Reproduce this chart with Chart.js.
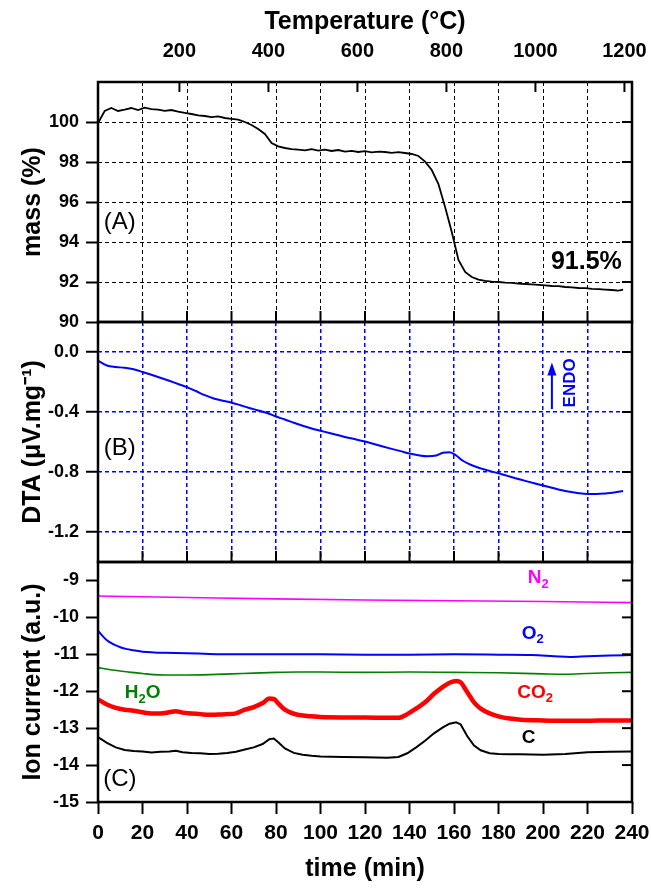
<!DOCTYPE html>
<html>
<head>
<meta charset="utf-8">
<script src="https://cdn.jsdelivr.net/npm/chart.js@4.4.0/dist/chart.umd.min.js"></script>
<style>
  html, body { margin: 0; padding: 0; background: #fff; }
  #wrap { position: relative; width: 651px; height: 888px; }
  #wrap canvas { position: absolute; left: 0; top: 0; }
</style>
</head>
<body>
<div id="wrap">
  <canvas id="chartA" width="651" height="888"></canvas>
  <canvas id="chartB" width="651" height="888"></canvas>
  <canvas id="chartC" width="651" height="888"></canvas>
</div>
<script>
// Tick values
const timeTicks = [0, 20, 40, 60, 80, 100, 120, 140, 160, 180, 200, 220, 240];
const tempTicks = [200, 400, 600, 800, 1000, 1200];
const massTicks = [90, 92, 94, 96, 98, 100];
const dtaTicks = [0, -0.4, -0.8, -1.2];
const ionTicks = [-9, -10, -11, -12, -13, -14, -15];

// (A) TG mass curve
const massTime = [0, 3, 6, 9, 12, 15, 18, 21, 24, 27, 30, 33, 36, 39, 42, 45, 48, 51, 54, 57,
  60, 63, 66, 69, 72, 75, 78, 81, 84, 87, 90, 93, 96, 99, 102, 105, 108, 111, 114, 117,
  120, 123, 126, 129, 132, 135, 138, 141, 144, 147, 150, 153, 156, 159, 162, 165, 168, 171, 174, 177,
  180, 183, 186, 189, 192, 195, 198, 201, 204, 207, 210, 213, 216, 219, 222, 225, 228, 231, 234, 236];
const massVals = [99.95, 100.55, 100.7, 100.55, 100.62, 100.7, 100.6, 100.72, 100.64, 100.62, 100.56, 100.6, 100.52, 100.46, 100.4, 100.33, 100.3, 100.24, 100.28, 100.2,
  100.16, 100.12, 100.0, 99.85, 99.65, 99.4, 98.95, 98.78, 98.7, 98.64, 98.62, 98.58, 98.64, 98.57, 98.62, 98.55, 98.6, 98.52, 98.56, 98.5,
  98.54, 98.48, 98.52, 98.5, 98.46, 98.49, 98.45, 98.4, 98.3, 98.02, 97.6, 96.9, 95.75, 94.5, 93.1, 92.5, 92.25, 92.12, 92.06, 92.02,
  92.0, 91.97, 91.96, 91.92, 91.9, 91.88, 91.86, 91.83, 91.8, 91.79, 91.75, 91.73, 91.7, 91.69, 91.66, 91.64, 91.62, 91.6, 91.57, 91.62];

// (B) DTA curve
const dtaTime = [0, 4, 8, 12, 16, 20, 24, 28, 32, 36, 40, 44, 48, 52, 56, 60, 64, 68, 72, 76,
  80, 84, 88, 92, 96, 100, 104, 108, 112, 116, 120, 124, 128, 132, 136, 140, 144, 148, 152, 155,
  158, 161, 164, 168, 172, 176, 180, 184, 188, 192, 196, 200, 204, 208, 212, 216, 220, 224, 228, 232, 236];
const dtaVals = [-0.057, -0.09, -0.1, -0.105, -0.115, -0.133, -0.152, -0.172, -0.192, -0.213, -0.234, -0.26, -0.288, -0.31, -0.325, -0.338, -0.355, -0.373, -0.39, -0.407,
  -0.43, -0.45, -0.472, -0.492, -0.51, -0.525, -0.54, -0.555, -0.57, -0.583, -0.597, -0.613, -0.63, -0.646, -0.661, -0.676, -0.688, -0.695, -0.69, -0.672,
  -0.668, -0.69, -0.725, -0.755, -0.776, -0.793, -0.809, -0.826, -0.843, -0.859, -0.875, -0.89, -0.905, -0.92, -0.932, -0.941, -0.946, -0.946, -0.943, -0.937, -0.927];

// (C) ion currents
const n2Time = [0, 40, 80, 120, 160, 200, 240];
const n2Vals = [-9.42, -9.46, -9.5, -9.53, -9.55, -9.57, -9.6];

const o2Time = [0, 2, 4, 6, 8, 10, 13, 16, 20, 25, 30, 40, 50, 60, 80, 100, 120, 140, 160, 180, 195, 205, 212, 220, 230, 240];
const o2Vals = [-10.36, -10.5, -10.62, -10.7, -10.76, -10.81, -10.86, -10.89, -10.93, -10.95, -10.96, -10.97, -10.99, -11.0, -11.0, -11.0, -11.01, -11.01, -11.0, -11.01, -11.02, -11.05, -11.07, -11.05, -11.03, -11.02];

const h2oTime = [0, 5, 10, 15, 20, 25, 30, 40, 50, 60, 70, 80, 90, 100, 120, 140, 160, 180, 200, 210, 220, 230, 240];
const h2oVals = [-11.36, -11.41, -11.45, -11.49, -11.52, -11.55, -11.56, -11.56, -11.55, -11.53, -11.51, -11.49, -11.48, -11.48, -11.49, -11.48, -11.49, -11.5, -11.53, -11.54, -11.52, -11.5, -11.49];

const gasTime = [0, 4, 8, 12, 16, 20, 24, 28, 32, 35, 38, 42, 46, 50, 54, 58, 62, 66, 70, 74,
  77, 79, 81, 84, 88, 92, 96, 100, 110, 120, 130, 135, 139, 143, 147, 151, 155, 158, 161, 163,
  166, 169, 172, 176, 180, 185, 190, 200, 210, 220, 230, 240];
const co2Vals = [-12.22, -12.36, -12.45, -12.5, -12.53, -12.57, -12.6, -12.6, -12.57, -12.54, -12.58, -12.6, -12.62, -12.64, -12.63, -12.62, -12.6, -12.5, -12.43, -12.32,
  -12.2, -12.21, -12.33, -12.5, -12.61, -12.66, -12.68, -12.7, -12.71, -12.71, -12.72, -12.72, -12.62, -12.47, -12.3, -12.07, -11.88, -11.77, -11.72, -11.76,
  -12.03, -12.3, -12.47, -12.6, -12.68, -12.74, -12.77, -12.79, -12.8, -12.8, -12.79, -12.79];
const cVals = [-13.24, -13.4, -13.52, -13.59, -13.62, -13.63, -13.66, -13.64, -13.63, -13.61, -13.65, -13.67, -13.68, -13.7, -13.69, -13.67, -13.64, -13.58, -13.52, -13.43,
  -13.3, -13.28, -13.38, -13.55, -13.67, -13.72, -13.75, -13.77, -13.78, -13.79, -13.8, -13.78, -13.68, -13.52, -13.34, -13.14, -12.98, -12.88, -12.84, -12.9,
  -13.22, -13.47, -13.6, -13.68, -13.7, -13.71, -13.71, -13.72, -13.7, -13.65, -13.64, -13.63];

const FONT = "'Liberation Sans', Arial, sans-serif";
Chart.defaults.font.family = FONT;
Chart.defaults.color = '#000';

const pairs = (xs, ys) => xs.map((x, i) => ({ x, y: ys[i] }));
const useTicks = values => scale => { scale.ticks = values.map(v => ({ value: v })); };
// fixed axis sizes, and no label overflow padding so all panels line up
const fixWidth = w => scale => { scale.width = w; scale.paddingTop = 0; scale.paddingBottom = 0; };
const fixHeight = h => scale => { scale.height = h; scale.paddingLeft = 0; scale.paddingRight = 0; };

// frame + inward tick marks
const framePlugin = {
  id: 'frame',
  afterDraw(chart, args, opts) {
    const { ctx, chartArea: a, scales } = chart;
    ctx.save();
    ctx.strokeStyle = '#000';
    ctx.lineWidth = 2;
    (opts.inner || []).forEach(([side, id, values]) => {
      const s = scales[id];
      values.forEach(v => {
        const p = s.getPixelForValue(v);
        ctx.beginPath();
        if (side === 'top') { ctx.moveTo(p, a.top); ctx.lineTo(p, a.top + 10); }
        if (side === 'bottom') { ctx.moveTo(p, a.bottom); ctx.lineTo(p, a.bottom - 11); }
        if (side === 'right') { ctx.moveTo(a.right, p); ctx.lineTo(a.right - 10, p); }
        ctx.stroke();
      });
    });
    ctx.lineWidth = 2.5;
    ctx.strokeRect(a.left, a.top, a.right - a.left, a.bottom - a.top);
    ctx.restore();
  }
};

// text notes and arrow, placed in data coordinates
const notesPlugin = {
  id: 'notes',
  afterDraw(chart, args, opts) {
    const { ctx, scales } = chart;
    const xs = scales.x, ys = scales.y;
    (opts.items || []).forEach(it => {
      const px = xs.getPixelForValue(it.x), py = ys.getPixelForValue(it.y);
      const w8 = it.bold ? 'bold ' : '';
      const big = `${w8}${it.size}px ${FONT}`;
      const small = `${w8}${Math.round(it.size * 0.68)}px ${FONT}`;
      const parts = it.parts || [[it.text, 0]];
      ctx.save();
      ctx.fillStyle = it.color || '#000';
      ctx.textBaseline = 'middle';
      let w = 0;
      parts.forEach(([s, sub]) => { ctx.font = sub ? small : big; w += ctx.measureText(s).width; });
      ctx.translate(px, py);
      if (it.rot) ctx.rotate(it.rot * Math.PI / 180);
      let cx = -w / 2;
      parts.forEach(([s, sub]) => {
        ctx.font = sub ? small : big;
        ctx.fillText(s, cx, sub ? it.size * 0.32 : 0);
        cx += ctx.measureText(s).width;
      });
      ctx.restore();
    });
    (opts.arrows || []).forEach(ar => {
      const x = xs.getPixelForValue(ar.x), y1 = ys.getPixelForValue(ar.from), y2 = ys.getPixelForValue(ar.to);
      ctx.save();
      ctx.strokeStyle = ar.color; ctx.fillStyle = ar.color; ctx.lineWidth = 2;
      ctx.beginPath(); ctx.moveTo(x, y1); ctx.lineTo(x, y2 + 10); ctx.stroke();
      ctx.beginPath(); ctx.moveTo(x, y2); ctx.lineTo(x - 4.5, y2 + 13); ctx.lineTo(x + 4.5, y2 + 13); ctx.closePath(); ctx.fill();
      ctx.restore();
    });
  }
};

const line = (data, color, width, smooth) => ({
  data, borderColor: color, borderWidth: width, pointRadius: 0,
  cubicInterpolationMode: smooth ? 'monotone' : 'default', tension: 0
});

const baseOptions = pad => ({
  responsive: false, animation: false, devicePixelRatio: 1,
  layout: { padding: Object.assign({ left: 0, right: 19 }, pad) },
  events: []
});

const yTitle = text => ({ display: true, text, font: { size: 25, weight: 'bold' }, padding: { top: 18, bottom: 0 } });
const yTickFont = { size: 18, weight: 'bold' };
const outTicks = { tickLength: 12, tickWidth: 2, tickColor: '#000' };

// Panel A: mass
new Chart(document.getElementById('chartA'), {
  type: 'line',
  data: { datasets: [line(pairs(massTime, massVals), '#000', 1.8, false)] },
  options: Object.assign(baseOptions({ top: 0, bottom: 888 - 322 }), {
    plugins: {
      legend: { display: false }, tooltip: { enabled: false },
      frame: { inner: [['top', 'xT', tempTicks], ['bottom', 'x', timeTicks], ['right', 'y', massTicks]] },
      notes: { items: [
        { x: 9.8, y: 95.0, text: '(A)', size: 24 },
        { x: 219.5, y: 93.0, text: '91.5%', size: 25, bold: true }
      ] }
    },
    scales: {
      x: { type: 'linear', min: 0, max: 240, position: 'bottom', afterBuildTicks: useTicks(timeTicks), afterFit: fixHeight(0),
        ticks: { display: false }, grid: { color: '#000', lineWidth: 1, drawTicks: false }, border: { display: false, dash: [4, 3] } },
      xT: { type: 'linear', min: 17, max: 1217, position: 'top', afterBuildTicks: useTicks(tempTicks), afterFit: fixHeight(82),
        ticks: { font: { size: 20, weight: 'bold' }, padding: 11, callback: v => String(v) },
        grid: { display: false }, border: { display: false },
        title: { display: true, text: 'Temperature (°C)', font: { size: 25, weight: 'bold' }, padding: { top: 7, bottom: 0 } } },
      y: { min: 90, max: 102, afterBuildTicks: useTicks(massTicks), afterFit: fixWidth(98),
        ticks: { font: yTickFont, padding: 7, callback: v => String(v) },
        grid: Object.assign({ color: '#000', lineWidth: 1 }, outTicks), border: { display: false, dash: [4, 3] },
        title: yTitle('mass (%)') }
    }
  }),
  plugins: [framePlugin, notesPlugin]
});

// Panel B: DTA
new Chart(document.getElementById('chartB'), {
  type: 'line',
  data: { datasets: [line(pairs(dtaTime, dtaVals), '#0000ff', 2, true)] },
  options: Object.assign(baseOptions({ top: 322, bottom: 888 - 562 }), {
    plugins: {
      legend: { display: false }, tooltip: { enabled: false },
      frame: { inner: [['bottom', 'x', timeTicks], ['right', 'y', dtaTicks]] },
      notes: {
        items: [
          { x: 9.8, y: -0.64, text: '(B)', size: 24 },
          { x: 212.3, y: -0.206, text: 'ENDO', size: 17, bold: true, color: '#0000ff', rot: -90 }
        ],
        arrows: [{ x: 204, from: -0.38, to: -0.07, color: '#0000ff' }]
      }
    },
    scales: {
      x: { type: 'linear', min: 0, max: 240, afterBuildTicks: useTicks(timeTicks), afterFit: fixHeight(0),
        ticks: { display: false }, grid: { color: '#0000ff', lineWidth: 1.5, drawTicks: false }, border: { display: false, dash: [4, 3] } },
      y: { min: -1.4, max: 0.2, afterBuildTicks: useTicks(dtaTicks), afterFit: fixWidth(98),
        ticks: { font: yTickFont, padding: 7, callback: v => v.toFixed(1) },
        grid: Object.assign({ color: '#0000ff', lineWidth: 1.5 }, outTicks), border: { display: false, dash: [4, 3] },
        title: yTitle('DTA (μV.mg⁻¹)') }
    }
  }),
  plugins: [framePlugin, notesPlugin]
});

// Panel C: ion currents
new Chart(document.getElementById('chartC'), {
  type: 'line',
  data: { datasets: [
    line(pairs(n2Time, n2Vals), '#ff00ff', 1.6, true),
    line(pairs(o2Time, o2Vals), '#0000ff', 2, true),
    line(pairs(h2oTime, h2oVals), '#008000', 1.6, true),
    line(pairs(gasTime, co2Vals), '#ff0000', 4.5, true),
    line(pairs(gasTime, cVals), '#000', 2, false)
  ] },
  options: Object.assign(baseOptions({ top: 562, bottom: 0 }), {
    plugins: {
      legend: { display: false }, tooltip: { enabled: false },
      frame: { inner: [['right', 'y', ionTicks]] },
      notes: { items: [
        { x: 9.8, y: -14.4, text: '(C)', size: 24 },
        { x: 197.9, y: -8.93, parts: [['N', 0], ['2', 1]], size: 19, bold: true, color: '#ff00ff' },
        { x: 195.4, y: -10.44, parts: [['O', 0], ['2', 1]], size: 19, bold: true, color: '#0000ff' },
        { x: 196.5, y: -12.03, parts: [['CO', 0], ['2', 1]], size: 19, bold: true, color: '#ff0000' },
        { x: 193.5, y: -13.27, text: 'C', size: 19, bold: true, color: '#000' },
        { x: 20.1, y: -12.05, parts: [['H', 0], ['2', 1], ['O', 0]], size: 19, bold: true, color: '#008000' }
      ] }
    },
    scales: {
      x: { type: 'linear', min: 0, max: 240, afterBuildTicks: useTicks(timeTicks), afterFit: fixHeight(86),
        ticks: { font: { size: 21, weight: 'bold' }, padding: 7, maxRotation: 0, autoSkip: false },
        grid: Object.assign({ drawOnChartArea: false }, outTicks), border: { display: false },
        title: { display: true, text: 'time (min)', font: { size: 25, weight: 'bold' }, padding: { top: 0, bottom: 4 } } },
      y: { min: -15, max: -8.5, afterBuildTicks: useTicks(ionTicks), afterFit: fixWidth(98),
        ticks: { font: yTickFont, padding: 7 },
        grid: Object.assign({ drawOnChartArea: false }, outTicks), border: { display: false },
        title: yTitle('Ion current (a.u.)') }
    }
  }),
  plugins: [framePlugin, notesPlugin]
});
</script>
</body>
</html>
